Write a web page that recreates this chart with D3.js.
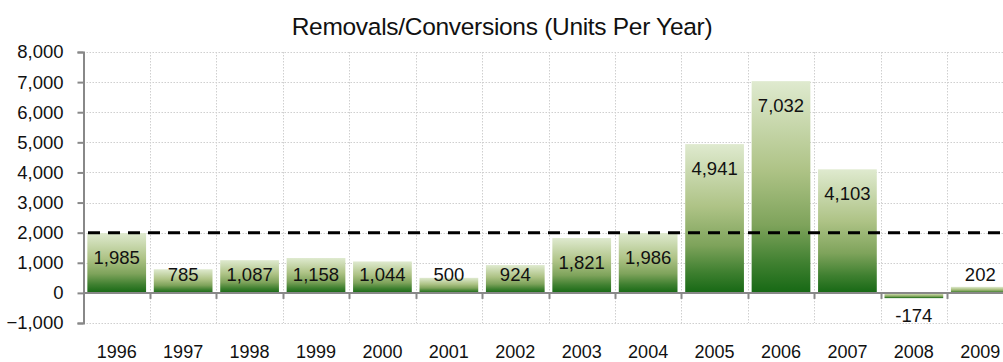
<!DOCTYPE html>
<html>
<head>
<meta charset="utf-8">
<script src="https://cdn.jsdelivr.net/npm/d3@7"></script>
<style>
  html, body { margin: 0; padding: 0; background: #fff; }
  svg { display: block; font-family: "Liberation Sans", Arial, sans-serif; }
</style>
</head>
<body>
<svg id="chart" width="1003" height="362"></svg>
<script>
// Removals/conversions per year, with a 2,000-unit reference line
const years = ["1996","1997","1998","1999","2000","2001","2002","2003","2004","2005","2006","2007","2008","2009"];
const units = [1985, 785, 1087, 1158, 1044, 500, 924, 1821, 1986, 4941, 7032, 4103, -174, 202];
const referenceLevel = [2000];
const yTicks = [-1000, 0, 1000, 2000, 3000, 4000, 5000, 6000, 7000, 8000];
const title = "Removals/Conversions (Units Per Year)";

const svg = d3.select("#chart");
const plot = { left: 83.5, top: 52, bottom: 323, right: 1013.5 };

const x = d3.scaleBand().domain(years).range([plot.left, plot.right]).padding(0);
const y = d3.scaleLinear().domain([-1000, 8000]).range([plot.bottom, plot.top]);
const fmt = d3.format(",");

// bar fill: light sage at the top fading to deep green at the base
const defs = svg.append("defs");
const grad = defs.append("linearGradient")
  .attr("id", "barFill").attr("x1", 0).attr("y1", 0).attr("x2", 0).attr("y2", 1);
[[0, "#dfeacf"], [0.42, "#aec386"], [0.68, "#7ea35b"], [0.86, "#3f8030"], [1, "#166814"]].forEach(([o, c]) =>
  grad.append("stop").attr("offset", o).attr("stop-color", c));

// dotted gridlines
const grid = svg.append("g").attr("stroke", "#cfcfcf").attr("stroke-dasharray", "1.5,1.5").attr("stroke-width", 1);
grid.selectAll("line.h").data(yTicks.filter(t => t !== 0)).join("line")
  .attr("x1", plot.left).attr("x2", 1003)
  .attr("y1", d => Math.round(y(d)) + 0.5).attr("y2", d => Math.round(y(d)) + 0.5);
grid.selectAll("line.v").data(years.slice(1)).join("line")
  .attr("x1", d => Math.round(x(d)) + 0.5).attr("x2", d => Math.round(x(d)) + 0.5)
  .attr("y1", plot.top).attr("y2", plot.bottom);

// bars
const inset = x.bandwidth() * 0.058;
svg.append("g").selectAll("rect").data(units).join("rect")
  .attr("x", (d, i) => x(years[i]) + inset)
  .attr("width", x.bandwidth() - 2 * inset)
  .attr("y", d => y(Math.max(0, d)))
  .attr("height", d => Math.abs(y(d) - y(0)))
  .attr("fill", "url(#barFill)");

// y axis
const yAxis = svg.append("g").attr("transform", `translate(${plot.left},0)`)
  .call(d3.axisLeft(y).tickValues(yTicks).tickFormat(fmt).tickSize(6).tickPadding(14));
yAxis.select(".domain").attr("stroke", "#888").attr("stroke-width", 2);
yAxis.selectAll(".tick line").attr("stroke", "#888").attr("stroke-width", 2);
yAxis.selectAll(".tick text").attr("font-size", 18.5).attr("fill", "#111")
  .attr("font-family", "Liberation Sans, Arial, sans-serif");

// zero baseline with category ticks
const zeroY = y(0);
svg.append("line").attr("x1", plot.left).attr("x2", 1003)
  .attr("y1", zeroY).attr("y2", zeroY).attr("stroke", "#888").attr("stroke-width", 2);
svg.append("g").selectAll("line").data(years.slice(1)).join("line")
  .attr("x1", d => Math.round(x(d)) + 0.5).attr("x2", d => Math.round(x(d)) + 0.5)
  .attr("y1", zeroY).attr("y2", zeroY + 6).attr("stroke", "#888").attr("stroke-width", 2);

// category labels
svg.append("g").selectAll("text").data(years).join("text")
  .attr("x", d => x(d) + x.bandwidth() / 2).attr("y", 358)
  .attr("text-anchor", "middle").attr("font-size", 18).attr("fill", "#111")
  .text(d => d);

// reference line
svg.append("g").selectAll("line").data(referenceLevel).join("line")
  .attr("x1", plot.left + 4.5).attr("x2", 1003)
  .attr("y1", d => y(d)).attr("y2", d => y(d))
  .attr("stroke", "#000").attr("stroke-width", 3).attr("stroke-dasharray", "12,8");

// value labels
svg.append("g").selectAll("text").data(units).join("text")
  .attr("x", (d, i) => x(years[i]) + x.bandwidth() / 2)
  .attr("y", d => d >= 0 ? Math.min(y(d) + 24, zeroY - 18) : y(d) + 17)
  .attr("dy", "0.35em")
  .attr("text-anchor", "middle").attr("font-size", 18.5).attr("fill", "#111")
  .text(d => fmt(d).replace("−", "-"));

// title
svg.append("text").attr("x", 502).attr("y", 35)
  .attr("text-anchor", "middle").attr("font-size", 24.5).attr("fill", "#111")
  .attr("letter-spacing", -0.3)
  .text(title);
</script>
</body>
</html>
